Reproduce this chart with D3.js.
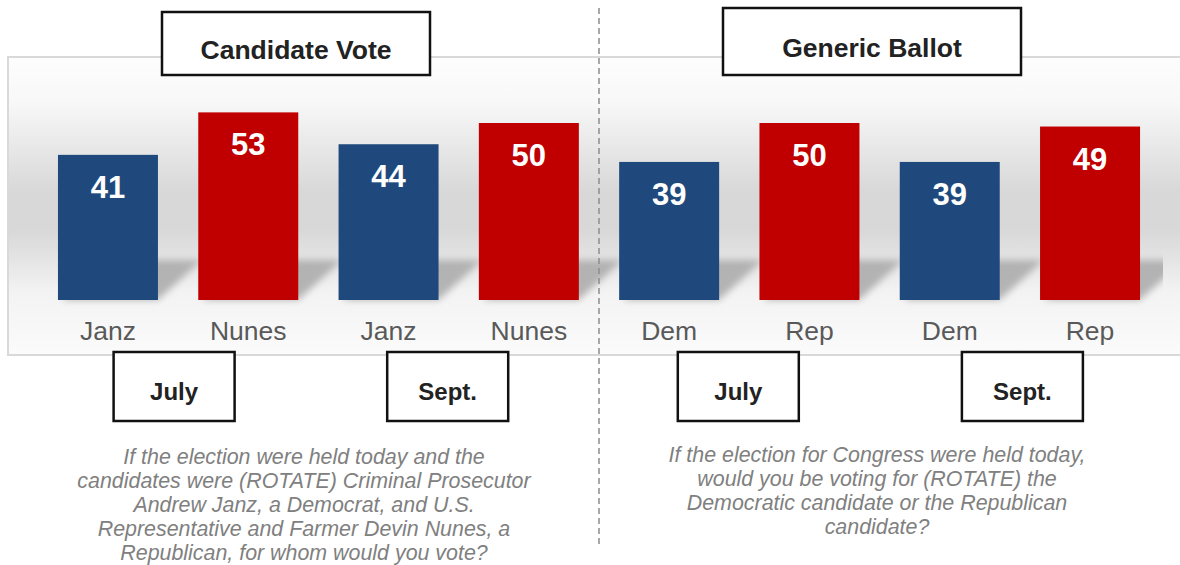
<!DOCTYPE html>
<head>
  <meta charset="utf-8">
  <script src="https://d3js.org/d3.v7.min.js"></script>
  <style type="text/css">
    body { margin: 0; background: #fff; }
    svg { display: block; }
    text { font-family: "Liberation Sans", Arial, sans-serif; }
  </style>
</head>

<body>
  <script type="text/javascript">
    // values
    var panels = ["Candidate Vote", "Generic Ballot"];
    var periods = ["July", "Sept."];
    var candidateNames = ["Janz", "Nunes"];
    var ballotNames = ["Dem", "Rep"];
    var candidateVote = [41, 53, 44, 50];   // July Janz, July Nunes, Sept Janz, Sept Nunes
    var genericBallot = [39, 50, 39, 49];   // July Dem, July Rep, Sept Dem, Sept Rep
    var questions = [
      ["If the election were held today and the",
       "candidates were (ROTATE) Criminal Prosecutor",
       "Andrew Janz, a Democrat, and U.S.",
       "Representative and Farmer Devin Nunes, a",
       "Republican, for whom would you vote?"],
      ["If the election for Congress were held today,",
       "would you be voting for (ROTATE) the",
       "Democratic candidate or the Republican",
       "candidate?"]
    ];

    var width = 1180, height = 565;
    var baseline = 300;
    var colors = ["#1f497d", "#c00000"];

    // build one row per bar
    var rows = [];
    [candidateVote, genericBallot].forEach(function(vals, p) {
      var names = p === 0 ? candidateNames : ballotNames;
      vals.forEach(function(v, i) {
        rows.push({
          key: p + "-" + i,
          panel: p,
          period: Math.floor(i / 2),
          party: i % 2,
          label: names[i % 2],
          value: v
        });
      });
    });

    var svg = d3.select("body").append("svg")
      .attr("width", width)
      .attr("height", height);

    var x = d3.scaleBand()
      .domain(rows.map(function(d) { return d.key; }))
      .range([37.8, 1160.2])
      .paddingInner(0.2873)
      .paddingOuter(0.1437);

    var y = d3.scaleLinear()
      .domain([0, 60])
      .range([baseline, baseline - 60 * 3.54]);

    var defs = svg.append("defs");

    var grad = defs.append("linearGradient")
      .attr("id", "bg")
      .attr("x1", 0).attr("y1", 0).attr("x2", 0).attr("y2", 1);
    [[0, "#fdfdfd"], [0.15, "#f8f8f8"], [0.3, "#e8e8e8"], [0.45, "#d8d8d8"],
     [0.58, "#d8d8d8"], [0.67, "#e3e3e3"], [0.79, "#f3f3f3"], [1, "#fbfbfb"]]
      .forEach(function(s) {
        grad.append("stop").attr("offset", s[0]).attr("stop-color", s[1]);
      });

    defs.append("filter").attr("id", "blur")
      .attr("x", -0.3).attr("y", -0.3).attr("width", 1.6).attr("height", 1.6)
      .append("feGaussianBlur").attr("stdDeviation", 3.5);

    defs.append("clipPath").attr("id", "plotclip")
      .append("rect")
      .attr("x", 8).attr("y", 57).attr("width", 1155).attr("height", 298);

    // panel background
    svg.append("rect")
      .attr("x", 8).attr("y", 57)
      .attr("width", 1190).attr("height", 298)
      .attr("fill", "url(#bg)")
      .attr("stroke", "#d9d9d9")
      .attr("stroke-width", 2);

    // floor shadows behind bars
    var shadows = svg.append("g")
      .attr("clip-path", "url(#plotclip)")
      .append("g")
      .attr("filter", "url(#blur)");

    shadows.selectAll("polygon")
      .data(rows)
      .enter().append("polygon")
      .attr("points", function(d) {
        var x0 = x(d.key), x1 = x0 + x.bandwidth();
        return [[x0 + 4, baseline], [x1, baseline],
                [x1 + 44, baseline - 40], [x0 + 44, baseline - 40]].join(" ");
      })
      .attr("fill", "#a9a9a9")
      .attr("opacity", 0.85);

    // bars
    svg.selectAll(".bar")
      .data(rows)
      .enter().append("rect")
      .attr("class", "bar")
      .attr("x", function(d) { return x(d.key); })
      .attr("y", function(d) { return y(d.value); })
      .attr("width", x.bandwidth())
      .attr("height", function(d) { return baseline - y(d.value); })
      .attr("fill", function(d) { return colors[d.party]; });

    svg.selectAll(".val")
      .data(rows)
      .enter().append("text")
      .attr("class", "val")
      .attr("x", function(d) { return x(d.key) + x.bandwidth() / 2; })
      .attr("y", function(d) { return y(d.value) + 43; })
      .attr("text-anchor", "middle")
      .attr("font-size", "31px")
      .attr("font-weight", "bold")
      .attr("fill", "#fff")
      .text(function(d) { return d.value; });

    svg.selectAll(".cat")
      .data(rows)
      .enter().append("text")
      .attr("class", "cat")
      .attr("x", function(d) { return x(d.key) + x.bandwidth() / 2; })
      .attr("y", 340)
      .attr("text-anchor", "middle")
      .attr("font-size", "26.5px")
      .attr("fill", "#595959")
      .text(function(d) { return d.label; });

    // dashed divider between the two panels
    svg.append("line")
      .attr("x1", 599).attr("x2", 599)
      .attr("y1", 8).attr("y2", 548)
      .attr("stroke", "#8c8c8c")
      .attr("stroke-width", 1.5)
      .attr("stroke-dasharray", "6,4");

    // title boxes
    var titleBox = [
      { x: 162, y: 12, w: 268, h: 63, ty: 59 },
      { x: 723, y: 8, w: 298, h: 67, ty: 57 }
    ];
    panels.forEach(function(t, p) {
      var b = titleBox[p];
      svg.append("rect")
        .attr("x", b.x).attr("y", b.y)
        .attr("width", b.w).attr("height", b.h)
        .attr("fill", "#fff")
        .attr("stroke", "#111")
        .attr("stroke-width", 2.5);
      svg.append("text")
        .attr("x", b.x + b.w / 2).attr("y", b.ty)
        .attr("text-anchor", "middle")
        .attr("font-size", "26.5px")
        .attr("font-weight", "bold")
        .attr("fill", "#222")
        .text(t);
    });

    // period boxes under each pair of bars
    var periodDx = [-4, -11, -1, 2.5];
    var boxW = 121, boxH = 69, boxTop = 352;
    [0, 1].forEach(function(p) {
      periods.forEach(function(per, k) {
        var a = rows.find(function(d) { return d.panel === p && d.period === k && d.party === 0; });
        var b = rows.find(function(d) { return d.panel === p && d.period === k && d.party === 1; });
        var cx = (x(a.key) + x(b.key)) / 2 + x.bandwidth() / 2 + periodDx[p * 2 + k];
        svg.append("rect")
          .attr("x", cx - boxW / 2).attr("y", boxTop)
          .attr("width", boxW).attr("height", boxH)
          .attr("fill", "#fff")
          .attr("stroke", "#111")
          .attr("stroke-width", 2.5);
        svg.append("text")
          .attr("x", cx).attr("y", boxTop + 48)
          .attr("text-anchor", "middle")
          .attr("font-size", "24px")
          .attr("font-weight", "bold")
          .attr("fill", "#222")
          .text(per);
      });
    });

    // question wording
    var qPos = [{ cx: 304, y0: 464 }, { cx: 877, y0: 462 }];
    questions.forEach(function(lines, p) {
      svg.append("text")
        .attr("text-anchor", "middle")
        .attr("font-size", "21.4px")
        .attr("font-style", "italic")
        .attr("fill", "#808080")
        .selectAll("tspan")
        .data(lines)
        .enter().append("tspan")
        .attr("x", qPos[p].cx)
        .attr("y", function(d, i) { return qPos[p].y0 + i * 24; })
        .text(function(d) { return d; })
    });
  </script>
</body>
